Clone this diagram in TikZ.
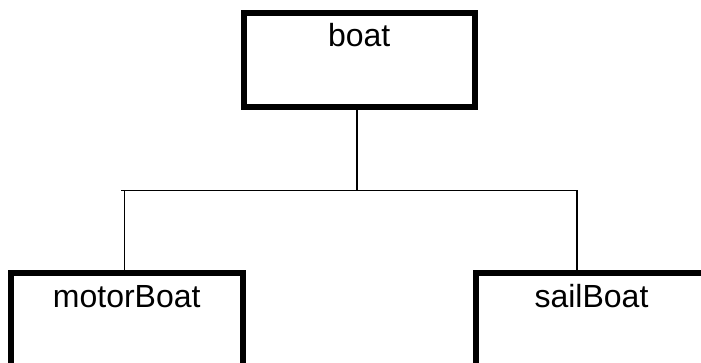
\documentclass[tikz,border=0pt]{standalone}
\usepackage{fontspec}
\setmainfont{Liberation Sans}
\begin{document}
\begin{tikzpicture}[x=1pt,y=-1pt,
  classbox/.style={draw=black, line width=6pt, fill=white, inner sep=0pt,
    font=\fontsize{32pt}{38pt}\selectfont, text height=34pt, anchor=north},
  conn/.style={draw=black, line width=1.5pt}]
\useasboundingbox (0,0) rectangle (701,363);
\clip (0,0) rectangle (701,363);
\node[classbox, minimum width=231.5pt, text depth=60pt] (boat) at (359.25,10) {boat};
\node[classbox, minimum width=232.5pt, text depth=58pt] (mb) at (126.75,270.5) {motorBoat};
\node[classbox, minimum width=232pt, text depth=58pt] (sb) at (591.5,270.5) {sailBoat};
\coordinate (j) at (357,190.5);
\coordinate (l) at (124.5,190.5);
\coordinate (lt) at (121,190.5);
\coordinate (r) at (577,190.5);
\draw[conn] (boat.south -| j) -- (j);
\draw[conn] (mb.north -| l) -- (l);
\draw[conn] (lt) -- (r) -- (sb.north -| r);
\end{tikzpicture}
\end{document}
